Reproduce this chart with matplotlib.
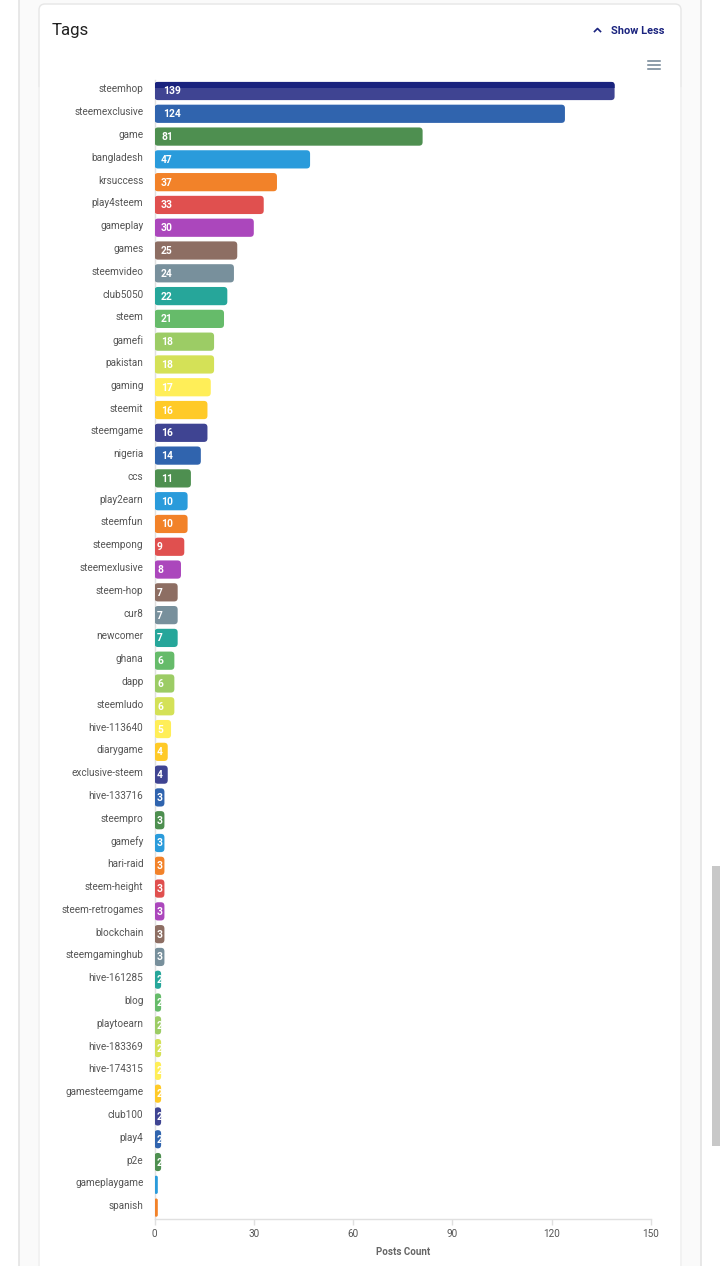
import matplotlib
matplotlib.use('Agg')
import matplotlib.pyplot as plt
from matplotlib.patches import FancyBboxPatch, Rectangle
from matplotlib.transforms import IdentityTransform, ScaledTranslation

plt.rcParams['font.family'] = ['Roboto', 'DejaVu Sans']

tags = ['steemhop', 'steemexclusive', 'game', 'bangladesh', 'krsuccess', 'play4steem', 'gameplay',
        'games', 'steemvideo', 'club5050', 'steem', 'gamefi', 'pakistan', 'gaming', 'steemit',
        'steemgame', 'nigeria', 'ccs', 'play2earn', 'steemfun', 'steempong', 'steemexlusive',
        'steem-hop', 'cur8', 'newcomer', 'ghana', 'dapp', 'steemludo', 'hive-113640', 'diarygame',
        'exclusive-steem', 'hive-133716', 'steempro', 'gamefy', 'hari-raid', 'steem-height',
        'steem-retrogames', 'blockchain', 'steemgaminghub', 'hive-161285', 'blog', 'playtoearn',
        'hive-183369', 'hive-174315', 'gamesteemgame', 'club100', 'play4', 'p2e', 'gameplaygame',
        'spanish']
counts = [139, 124, 81, 47, 37, 33, 30, 25, 24, 22, 21, 18, 18, 17, 16, 16, 14, 11, 10, 10, 9, 8,
          7, 7, 7, 6, 6, 6, 5, 4, 4, 3, 3, 3, 3, 3, 3, 3, 3, 2, 2, 2, 2, 2, 2, 2, 2, 2, 1, 1]
palette = ['#3F4492', '#3064AE', '#4E8F50', '#2A9BDB', '#F28229', '#E0504F', '#AB47BC', '#8D6E63',
           '#78909C', '#26A69A', '#66BB6A', '#9CCC65', '#D4E157', '#FFEE58', '#FFCA28']
xticks = [0, 30, 60, 90, 120, 150]

W, H = 720, 1266
fig = plt.figure(figsize=(W / 100, H / 100), dpi=100, facecolor='white')

# page furniture, in pixel coordinates
bg = fig.add_axes([0, 0, 1, 1], zorder=0)
bg.set_xlim(0, W)
bg.set_ylim(H, 0)
bg.axis('off')
bg.add_patch(Rectangle((19, -5), 682, H + 10, fc='#FAFAFA', ec='#E4E4E4', lw=1.2))
# card runs off the bottom of the page; its shadow is only strong above y=88
bg.add_patch(FancyBboxPatch((45, 10), 630, H + 40, boxstyle='round,pad=6,rounding_size=6',
                            fc='white', ec='#E6E6E6', lw=1))
bg.plot([39, 39], [88, H], color='#F4F4F4', lw=1.2)
bg.plot([681, 681], [88, H], color='#F4F4F4', lw=1.2)
bg.add_patch(Rectangle((712, 866), 8, 280, fc='#C8C8C8', ec='none'))
bg.text(52, 30, 'Tags', fontsize=12.2, color='#212121', va='center', ha='left')
bg.text(611, 30.5, 'Show Less', fontsize=7.9, color='#1A237E', fontweight='bold', va='center', ha='left')
bg.plot([594.5, 597.5, 600.5], [31.5, 28.5, 31.5], color='#1A237E', lw=1.2)
for yy in (61, 65, 69):
    bg.plot([648, 660], [yy, yy], color='#6E8192', lw=1.1)

ax = fig.add_axes([154.5 / W, 1 - 1219 / H, (651 - 154.5) / W, (1219 - 79.6) / H], zorder=1)
ax.patch.set_alpha(0)
ax.set_xlim(0, 150)
ax.set_ylim(len(tags) - 0.5, -0.5)
for side in ('top', 'right'):
    ax.spines[side].set_visible(False)
for side in ('left', 'bottom'):
    ax.spines[side].set_color('#E0E0E0')
    ax.spines[side].set_linewidth(1)
ax.set_yticks(range(len(tags)))
ax.set_yticklabels(tags, fontsize=7.2, color='#555555')
ax.tick_params(axis='y', length=0, pad=8)
for lab in ax.get_yticklabels():
    lab.set_transform(lab.get_transform() + ScaledTranslation(0, 2.5 / 100, fig.dpi_scale_trans))
ax.set_xticks(xticks)
ax.tick_params(axis='x', length=4, width=1, color='#E0E0E0', labelsize=7.2, labelcolor='#555555', pad=3)
ax.set_xlabel('Posts Count', fontsize=7, fontweight='bold', color='#666666', labelpad=6)

bar_h = 0.8
for i, (tag, n) in enumerate(zip(tags, counts)):
    x0, y0 = ax.transData.transform((0, i + bar_h / 2))
    x1, y1 = ax.transData.transform((n, i - bar_h / 2))
    w, h = x1 - x0, y1 - y0
    r = min(3.5, w / 2)
    col = palette[i % len(palette)]
    # rounded bar, built in display pixels from the axis scale
    bar = FancyBboxPatch((x0 + r, y0 + r), w - 2 * r, h - 2 * r,
                         boxstyle='round,pad=%f,rounding_size=%f' % (r, r),
                         fc=col, ec='none', transform=IdentityTransform(), zorder=3)
    ax.add_patch(bar)
    if i == 0:
        band = Rectangle((x0, y1 - 6), w, 6, fc='#1A237E', ec='none',
                         transform=IdentityTransform(), zorder=4)
        ax.add_patch(band)
        band.set_clip_path(bar)
    if n >= 2:
        s = str(n)
        off = {1: 2.5, 2: 6.5, 3: 8.5}[len(s)]
        lab = ax.annotate(s, (0, i), xytext=(off, -0.5), textcoords='offset pixels', fontsize=7.4,
                          fontweight='bold', color='white', ha='left', va='center', zorder=5,
                          annotation_clip=False)
        lab.set_clip_path(bar)

fig.savefig('out.png', dpi=100)
